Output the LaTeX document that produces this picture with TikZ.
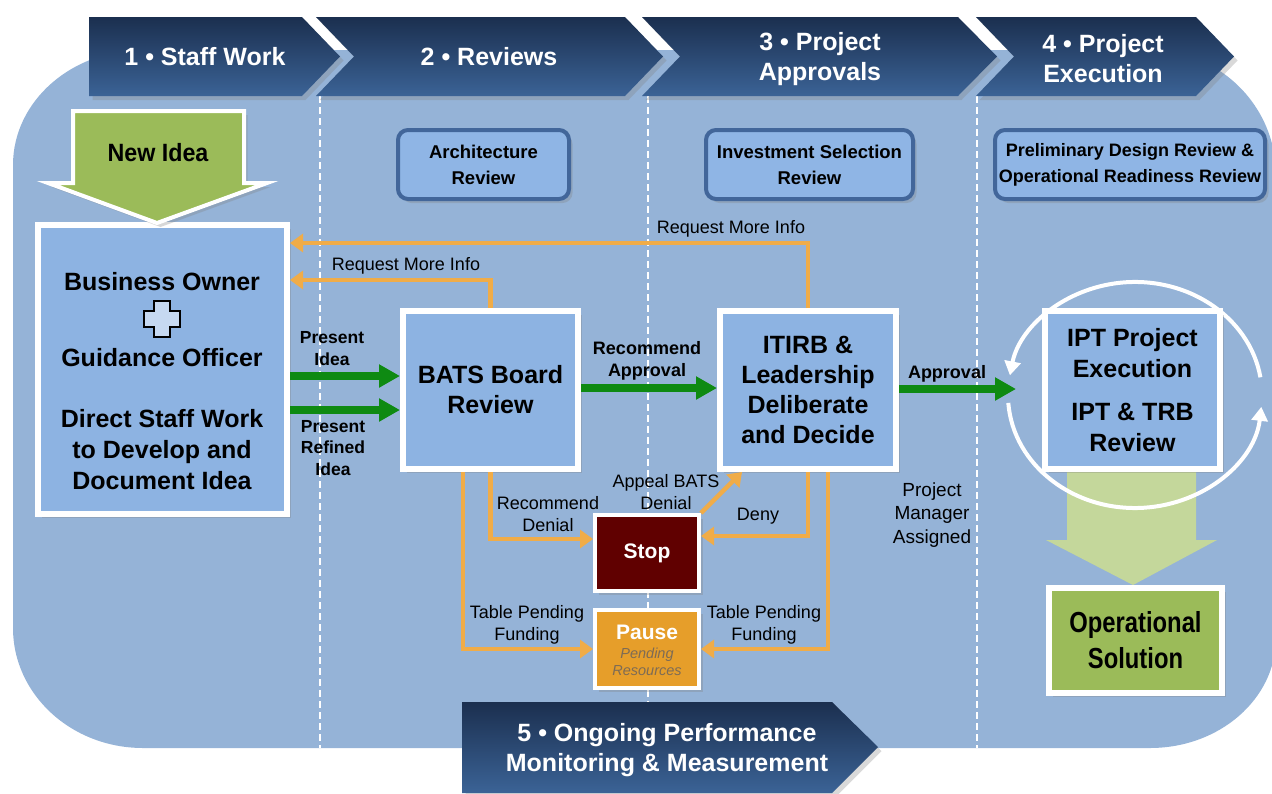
\documentclass[tikz,border=0pt]{standalone}
\usepackage{fontspec}
\setmainfont{Liberation Sans}
\newfontfamily\narrowfont[FakeStretch=0.82]{Liberation Sans}
\newfontfamily\semifont[FakeStretch=0.93]{Liberation Sans}
\usetikzlibrary{arrows.meta,shadows}
\newcommand\myfs[2]{\fontsize{#1}{#2}\selectfont}
\definecolor{bgblue}{HTML}{95B3D7}
\definecolor{boxblue}{HTML}{8DB3E2}
\definecolor{revfill}{HTML}{8FB5E5}
\definecolor{revborder}{HTML}{42669A}
\definecolor{chevtop}{HTML}{1B2F4F}
\definecolor{chevbot}{HTML}{3B6396}
\definecolor{oline}{HTML}{F0AC48}
\definecolor{garrowc}{HTML}{0E8A12}
\definecolor{stopred}{HTML}{600000}
\definecolor{pauseor}{HTML}{E69E2A}
\definecolor{olive}{HTML}{9BBB59}
\definecolor{lightolive}{HTML}{C4D79B}
\definecolor{plusfill}{HTML}{C6D9F1}
\definecolor{pendgrey}{HTML}{7D6B55}
\begin{document}
\begin{tikzpicture}[x=1pt,y=-1pt,
  shad/.style={drop shadow={shadow xshift=3.5pt,shadow yshift=-4pt,opacity=0.3}},
  wbox/.style={draw=white,line width=6pt,outer sep=3pt,inner sep=0pt,fill=boxblue,shad,align=center},
  rbox/.style={draw=revborder,line width=4pt,outer sep=2pt,inner sep=0pt,fill=revfill,rounded corners=10pt,shad,font=\bfseries\myfs{18.5}{26},align=center},
  chev/.style={top color=chevtop,bottom color=chevbot,shad},
  chevtext/.style={text=white,font=\bfseries\myfs{25}{30},align=center,inner sep=0pt},
  boxtext/.style={font=\bfseries\myfs{25}{30},align=center,inner sep=0pt},
  lbl/.style={font=\myfs{18}{22},align=center,inner sep=0pt},
  blbl/.style={font=\bfseries\myfs{17.5}{21.5},align=center,inner sep=0pt},
  oarrow/.style={draw=oline,line width=4.5pt,-{Triangle[width=18pt,length=13pt]}},
  garrow/.style={draw=garrowc,line width=7.5pt,-{Triangle[width=22pt,length=21pt]}},
  warc/.style={draw=white,line width=4pt,-{Triangle[width=16pt,length=14pt]}},
  dline/.style={draw=white,line width=1.5pt,dash pattern=on 7pt off 4pt}]
\useasboundingbox (0,0) rectangle (1272,793);
% background
\fill[bgblue] (13,165) arc[start angle=180,end angle=270,x radius=130,y radius=115]
  -- (1150,50) arc[start angle=270,end angle=360,x radius=126,y radius=125]
  -- (1276,638) arc[start angle=0,end angle=90,x radius=126,y radius=110]
  -- (143,748) arc[start angle=90,end angle=180,x radius=130,y radius=120] -- cycle;
% lane dividers
\draw[dline] (320,96) -- (320,748);
\draw[dline] (648,96) -- (648,748);
\draw[dline] (977,96) -- (977,748);
% chevrons
\path[chev] (89,17) -- (302,17) -- (340,56.5) -- (302,96) -- (89,96) -- cycle;
\path[chev] (316,17) -- (625,17) -- (663,56.5) -- (625,96) -- (316,96) -- (354,56.5) -- cycle;
\path[chev] (642,17) -- (958,17) -- (997,56.5) -- (958,96) -- (642,96) -- (680,56.5) -- cycle;
\path[chev] (976,17) -- (1196,17) -- (1234,56.5) -- (1196,96) -- (976,96) -- (1014,56.5) -- cycle;
\path[chev] (462,702) -- (832,702) -- (878,747) -- (832,793) -- (462,793) -- cycle;
\node[chevtext] (c1) at (205,57) {1 • Staff Work};
\node[chevtext] (c2) at (489,57) {2 • Reviews};
\node[chevtext] (c3) at (820,59) {3 • Project\\Approvals};
\node[chevtext] (c4) at (1103,59) {4 • Project\\Execution};
\node[chevtext] (c5) at (667,750.5) {5 • Ongoing Performance\\Monitoring \& Measurement};
% review boxes
\node[rbox,minimum width=171,minimum height=69] (arch) at (483.5,164.5) {Architecture\\Review};
\node[rbox,minimum width=207,minimum height=69] (inv) at (809.5,164.5) {Investment Selection\\Review};
\node[rbox,minimum width=270,minimum height=69,font=\bfseries\myfs{18}{26}] (pdr) at (1130,164.5) {Preliminary Design Review \&\\Operational Readiness Review};
% main boxes
\node[wbox,minimum width=249,minimum height=289] (leftbox) at (162.5,369.5) {};
\node[wbox,minimum width=175,minimum height=158] (bats) at (490.5,390) {};
\node[wbox,minimum width=176,minimum height=158] (itirb) at (808,390) {};
% orange connectors
\draw[oarrow] (itirb.north) |- (leftbox.east |- 0,243);
\draw[oarrow] (bats.north) |- (leftbox.east |- 0,280);
\node[wbox,draw=white,line width=4pt,outer sep=2pt,fill=stopred,minimum width=104,minimum height=76,text=white,font=\bfseries\myfs{21}{24}] (stop) at (647,553) {Stop};
\node[wbox,draw=white,line width=4pt,outer sep=2pt,fill=pauseor,minimum width=104,minimum height=78] (pause) at (647,649) {};
\draw[oarrow] (bats.south) |- (stop.west |- 0,539);
\draw[oarrow] (bats.south -| 463,0) |- (pause.west);
\draw[oarrow] (itirb.south) |- (stop.east |- 0,536);
\draw[oarrow] (itirb.south -| 828,0) |- (pause.east);
\draw[oarrow] (stop.north east) -- (itirb.south -| 742,0);
% box texts
\node[boxtext,font=\bfseries\myfs{25}{31}] (bo) at (162,282) {Business Owner};
\draw[black,line width=2.5pt,fill=plusfill] (154,301) -- (170,301) -- (170,311) -- (180,311) -- (180,327) -- (170,327) -- (170,337) -- (154,337) -- (154,327) -- (144,327) -- (144,311) -- (154,311) -- cycle;
\node[boxtext,font=\bfseries\myfs{25}{31}] (go) at (162,358) {Guidance Officer};
\node[boxtext,font=\bfseries\myfs{25}{31}] (dsw) at (162,450) {Direct Staff Work\\to Develop and\\Document Idea};
\node[boxtext] (batst) at (bats) {BATS Board\\Review};
\node[boxtext] (itirbt) at (itirb) {ITIRB \&\\Leadership\\Deliberate\\and Decide};
\node[font=\myfs{21}{24}\bfseries,text=white,inner sep=0pt] (pauset) at (647,632) {Pause};
\node[font=\myfs{14.5}{17}\itshape,text=pendgrey,align=center,inner sep=0pt] (pendt) at (647,661.5) {Pending\\Resources};
% new idea arrow
\path[fill=olive,draw=white,line width=4pt,shad] (73,111) -- (244,111) -- (244,183) -- (267,183) -- (157,223) -- (48,183) -- (73,183) -- cycle;
\node[font=\semifont\bfseries\myfs{25}{30},inner sep=0pt] (newidea) at (158,153) {New Idea};
% green arrows
\coordinate (loopin) at (1016,389);
\draw[garrow] (leftbox.east |- 0,376) -- (bats.west |- 0,376);
\draw[garrow] (leftbox.east |- 0,410) -- (bats.west |- 0,410);
\draw[garrow] (bats.east |- 0,388) -- (itirb.west |- 0,388);
\draw[garrow] (itirb.east |- 0,389) -- (loopin);
% execution loop
\fill[lightolive] (1067,472) -- (1196,472) -- (1196,540) -- (1217,540) -- (1133,585) -- (1046,540) -- (1067,540) -- cycle;
\draw[warc] (1260.4,377.3) arc[start angle=-9,end angle=-170,x radius=127,y radius=113];
\draw[warc] (1008.3,402.9) arc[start angle=176,end angle=6,x radius=127,y radius=113];
\node[wbox,minimum width=175,minimum height=158,font=\bfseries\myfs{25}{31}] (ipt) at (1132.5,390) {IPT Project\\Execution\\[12pt]IPT \& TRB\\Review};
\node[wbox,fill=olive,minimum width=173,minimum height=105,font=\narrowfont\bfseries\myfs{29}{36}] (opsol) at (1135.5,640.5) {Operational\\Solution};
% labels
\node[lbl] (rmi1) at (731,229) {Request More Info};
\node[lbl] (rmi2) at (406,266) {Request More Info};
\node[blbl] (pi) at (332,348.5) {Present\\Idea};
\node[blbl] (pri) at (333,448) {Present\\Refined\\Idea};
\node[blbl,font=\bfseries\myfs{18}{22}] (ra) at (647,361) {Recommend\\Approval};
\node[blbl,font=\bfseries\myfs{18}{22}] (appr) at (947,374) {Approval};
\node[lbl,font=\myfs{19}{23.5}] (pma) at (932,515) {Project\\Manager\\Assigned};
\node[lbl] (rd) at (548,514) {Recommend\\Denial};
\node[lbl] (abd) at (666,492.5) {Appeal BATS\\Denial};
\node[lbl] (deny) at (758,516) {Deny};
\node[lbl] (tpf1) at (527,625) {Table Pending\\Funding};
\node[lbl] (tpf2) at (764,625) {Table Pending\\Funding};
\end{tikzpicture}
\end{document}
